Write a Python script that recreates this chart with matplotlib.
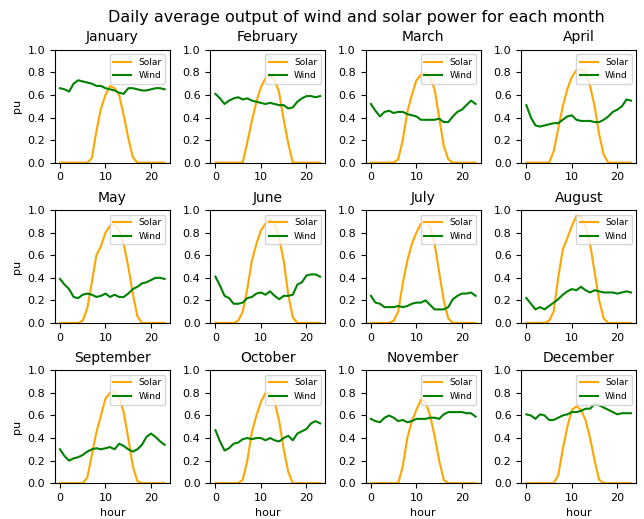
import numpy as np
import matplotlib
matplotlib.use('Agg')
import matplotlib.pyplot as plt

hours = np.arange(24)
months = ['January', 'February', 'March', 'April', 'May', 'June',
          'July', 'August', 'September', 'October', 'November', 'December']

# average solar output per hour (pu)
solar_jan = [0, 0, 0, 0, 0, 0, 0, 0.04, 0.28, 0.48, 0.6, 0.68, 0.66, 0.6, 0.42, 0.22, 0.05, 0, 0, 0, 0, 0, 0, 0]
solar_feb = [0, 0, 0, 0, 0, 0, 0, 0.18, 0.37, 0.54, 0.67, 0.75, 0.77, 0.74, 0.62, 0.38, 0.17, 0, 0, 0, 0, 0, 0, 0]
solar_mar = [0, 0, 0, 0, 0, 0, 0.03, 0.2, 0.45, 0.6, 0.73, 0.78, 0.8, 0.75, 0.65, 0.4, 0.15, 0.03, 0, 0, 0, 0, 0, 0]
solar_apr = [0, 0, 0, 0, 0, 0, 0.1, 0.3, 0.5, 0.65, 0.76, 0.82, 0.83, 0.8, 0.68, 0.5, 0.25, 0.07, 0, 0, 0, 0, 0, 0]
solar_may = [0, 0, 0, 0, 0, 0.02, 0.13, 0.36, 0.6, 0.68, 0.8, 0.86, 0.88, 0.82, 0.7, 0.5, 0.26, 0.06, 0, 0, 0, 0, 0, 0]
solar_jun = [0, 0, 0, 0, 0, 0.02, 0.1, 0.3, 0.55, 0.7, 0.82, 0.88, 0.92, 0.87, 0.75, 0.55, 0.25, 0.05, 0, 0, 0, 0, 0, 0]
solar_jul = [0, 0, 0, 0, 0, 0.02, 0.1, 0.35, 0.55, 0.7, 0.8, 0.88, 0.9, 0.85, 0.7, 0.45, 0.2, 0.04, 0, 0, 0, 0, 0, 0]
solar_aug = [0, 0, 0, 0, 0, 0.02, 0.1, 0.4, 0.65, 0.75, 0.86, 0.95, 0.94, 0.86, 0.7, 0.45, 0.2, 0.04, 0, 0, 0, 0, 0, 0]
solar_sep = [0, 0, 0, 0, 0, 0, 0.05, 0.25, 0.45, 0.6, 0.75, 0.8, 0.81, 0.76, 0.63, 0.4, 0.15, 0.02, 0, 0, 0, 0, 0, 0]
solar_oct = [0, 0, 0, 0, 0, 0, 0.03, 0.2, 0.45, 0.6, 0.72, 0.8, 0.8, 0.72, 0.55, 0.3, 0.1, 0, 0, 0, 0, 0, 0, 0]
solar_nov = [0, 0, 0, 0, 0, 0, 0, 0.15, 0.4, 0.55, 0.65, 0.74, 0.72, 0.6, 0.42, 0.2, 0.03, 0, 0, 0, 0, 0, 0, 0]
solar_dec = [0, 0, 0, 0, 0, 0, 0, 0.07, 0.3, 0.5, 0.65, 0.68, 0.65, 0.56, 0.4, 0.2, 0.03, 0, 0, 0, 0, 0, 0, 0]

# average wind output per hour (pu)
wind_jan = [0.66, 0.65, 0.63, 0.7, 0.73, 0.72, 0.71, 0.7, 0.68, 0.68, 0.66, 0.65, 0.64, 0.62, 0.61, 0.66, 0.66, 0.65, 0.64, 0.64, 0.65, 0.66, 0.66, 0.65]
wind_feb = [0.61, 0.57, 0.52, 0.55, 0.57, 0.58, 0.56, 0.57, 0.55, 0.54, 0.53, 0.52, 0.53, 0.52, 0.51, 0.51, 0.48, 0.49, 0.54, 0.57, 0.59, 0.59, 0.58, 0.59]
wind_mar = [0.52, 0.46, 0.41, 0.45, 0.46, 0.44, 0.45, 0.45, 0.43, 0.42, 0.41, 0.38, 0.38, 0.38, 0.38, 0.39, 0.36, 0.36, 0.41, 0.45, 0.47, 0.51, 0.55, 0.52]
wind_apr = [0.51, 0.4, 0.33, 0.32, 0.33, 0.34, 0.35, 0.35, 0.38, 0.41, 0.42, 0.38, 0.37, 0.37, 0.37, 0.36, 0.36, 0.38, 0.41, 0.45, 0.47, 0.5, 0.56, 0.55]
wind_may = [0.39, 0.34, 0.3, 0.23, 0.22, 0.25, 0.26, 0.25, 0.23, 0.24, 0.26, 0.23, 0.25, 0.23, 0.23, 0.26, 0.3, 0.32, 0.35, 0.36, 0.38, 0.4, 0.4, 0.39]
wind_jun = [0.41, 0.33, 0.24, 0.22, 0.17, 0.17, 0.18, 0.22, 0.23, 0.26, 0.27, 0.25, 0.28, 0.24, 0.21, 0.24, 0.24, 0.25, 0.34, 0.36, 0.42, 0.43, 0.43, 0.41]
wind_jul = [0.24, 0.18, 0.17, 0.14, 0.14, 0.14, 0.15, 0.14, 0.15, 0.17, 0.18, 0.18, 0.2, 0.16, 0.12, 0.12, 0.12, 0.14, 0.21, 0.24, 0.26, 0.26, 0.27, 0.24]
wind_aug = [0.22, 0.17, 0.12, 0.14, 0.12, 0.15, 0.18, 0.21, 0.25, 0.28, 0.3, 0.29, 0.32, 0.29, 0.27, 0.29, 0.28, 0.27, 0.27, 0.27, 0.26, 0.27, 0.28, 0.27]
wind_sep = [0.3, 0.24, 0.2, 0.22, 0.23, 0.25, 0.28, 0.3, 0.31, 0.3, 0.31, 0.32, 0.3, 0.35, 0.33, 0.3, 0.28, 0.3, 0.34, 0.41, 0.44, 0.41, 0.37, 0.34]
wind_oct = [0.47, 0.37, 0.29, 0.31, 0.35, 0.36, 0.39, 0.4, 0.39, 0.4, 0.4, 0.38, 0.4, 0.38, 0.37, 0.4, 0.42, 0.38, 0.44, 0.46, 0.48, 0.53, 0.55, 0.53]
wind_nov = [0.57, 0.55, 0.54, 0.58, 0.6, 0.58, 0.55, 0.56, 0.54, 0.55, 0.57, 0.57, 0.57, 0.58, 0.58, 0.57, 0.61, 0.63, 0.63, 0.63, 0.63, 0.62, 0.62, 0.59]
wind_dec = [0.61, 0.6, 0.57, 0.61, 0.6, 0.56, 0.56, 0.58, 0.6, 0.61, 0.63, 0.63, 0.64, 0.66, 0.66, 0.7, 0.69, 0.67, 0.65, 0.63, 0.61, 0.62, 0.62, 0.62]

solar = [solar_jan, solar_feb, solar_mar, solar_apr, solar_may, solar_jun,
         solar_jul, solar_aug, solar_sep, solar_oct, solar_nov, solar_dec]
wind = [wind_jan, wind_feb, wind_mar, wind_apr, wind_may, wind_jun,
        wind_jul, wind_aug, wind_sep, wind_oct, wind_nov, wind_dec]

fig, axes = plt.subplots(3, 4, figsize=(6.44, 5.19), dpi=100)
fig.subplots_adjust(left=0.085, right=0.988, top=0.904, bottom=0.069, wspace=0.35, hspace=0.42)
fig.suptitle('Daily average output of wind and solar power for each month', fontsize=11.5, x=0.553)

for i, ax in enumerate(axes.flat):
    ax.plot(hours, solar[i], color='orange', label='Solar')
    ax.plot(hours, wind[i], color='green', label='Wind')
    ax.set_title(months[i], fontsize=10)
    ax.set_ylim(0, 1)
    ax.set_yticks(np.arange(0, 1.01, 0.2))
    ax.set_xticks([0, 10, 20])
    ax.tick_params(labelsize=8)
    ax.legend(loc='upper right', fontsize=6.5)
    if i % 4 == 0:
        ax.set_ylabel('pu', fontsize=8)
    if i >= 8:
        ax.set_xlabel('hour', fontsize=8)

plt.savefig('out.png')
